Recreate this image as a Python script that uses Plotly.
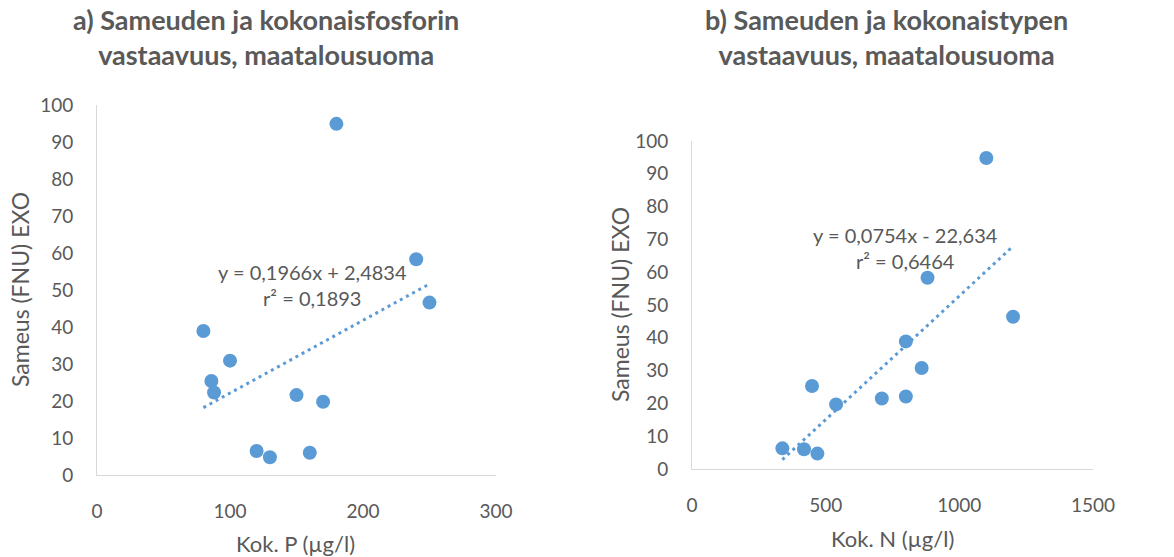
import plotly.graph_objects as go

W, H = 1174, 557

# Panel a) Total phosphorus vs turbidity
p_x = [80, 100, 86, 88, 150, 170, 120, 130, 160, 180, 240, 250]
p_y = [38.9, 30.9, 25.4, 22.3, 21.6, 19.8, 6.5, 4.8, 6.0, 94.9, 58.3, 46.6]
p_coef = [0.1966, 2.4834]
p_label = ["y = 0,1966x + 2,4834", "r² = 0,1893"]

# Panel b) Total nitrogen vs turbidity
n_x = [338, 419, 469, 449, 539, 710, 800, 800, 859, 881, 1101, 1201]
n_y = [6.3, 6.0, 4.7, 25.3, 19.7, 21.5, 22.1, 38.9, 30.8, 58.3, 94.8, 46.4]
n_coef = [0.0754, -22.634]
n_label = ["y = 0,0754x - 22,634", "r² = 0,6464"]

titles = ["<b>a) Sameuden ja kokonaisfosforin<br>vastaavuus, maatalousuoma</b>",
          "<b>b) Sameuden ja kokonaistypen<br>vastaavuus, maatalousuoma</b>"]
x_titles = ["Kok. P (µg/l)", "Kok. N (µg/l)"]
y_title = "Sameus (FNU) EXO"

BLUE = "#5b9bd5"
TXT = "#595959"
AX = "#d9d9d9"
FONT = "Lato, Open Sans, sans-serif"

fig = go.Figure()

def px_x(v):
    return v / W

def px_y(v):
    return 1 - v / H

panels = [
    dict(x=p_x, y=p_y, coef=p_coef, label=p_label, xr=[0, 300], dt=100,
         box=(97, 496, 105, 475), title_c=266, lab=(312, 285),
         xt=(296, 543), yt=(20, 290)),
    dict(x=n_x, y=n_y, coef=n_coef, label=n_label, xr=[0, 1500], dt=500,
         box=(692, 1093, 141, 469), title_c=886, lab=(905, 248),
         xt=(892, 538), yt=(620, 305)),
]

for i, pnl in enumerate(panels):
    xa = "x" if i == 0 else "x2"
    ya = "y" if i == 0 else "y2"
    xmin, xmax = min(pnl["x"]), max(pnl["x"])
    a, b = pnl["coef"]
    fig.add_trace(go.Scatter(
        x=[xmin, xmax], y=[a * xmin + b, a * xmax + b], mode="lines",
        line=dict(color=BLUE, width=3, dash="3px,4px"),
        xaxis=xa, yaxis=ya, showlegend=False, hoverinfo="skip"))
    fig.add_trace(go.Scatter(
        x=pnl["x"], y=pnl["y"], mode="markers",
        marker=dict(color=BLUE, size=14, line=dict(width=0)),
        xaxis=xa, yaxis=ya, showlegend=False))

    l, r, t, btm = pnl["box"]
    common = dict(showgrid=False, zeroline=False, showline=True, linecolor=AX,
                  linewidth=1, ticks="", automargin=False,
                  tickfont=dict(size=19, color=TXT, family=FONT))
    xkey = "xaxis" if i == 0 else "xaxis2"
    ykey = "yaxis" if i == 0 else "yaxis2"
    fig.update_layout(**{
        xkey: dict(domain=[px_x(l), px_x(r)], range=pnl["xr"], dtick=pnl["dt"],
                   anchor=ya, ticklabelstandoff=19, **common),
        ykey: dict(domain=[px_y(btm), px_y(t)], range=[0, 100], dtick=10,
                   anchor=xa, ticklabelstandoff=19, **common),
    })

    fig.add_annotation(text=titles[i], x=px_x(pnl["title_c"]), y=px_y(37),
                       xref="paper", yref="paper", showarrow=False,
                       xanchor="center", yanchor="middle",
                       font=dict(size=27, color=TXT, family=FONT), align="center")
    lx, ly = pnl["lab"]
    fig.add_annotation(text=pnl["label"][0] + "<br>" + pnl["label"][1],
                       x=px_x(lx), y=px_y(ly), xref="paper", yref="paper",
                       showarrow=False, align="center", xanchor="center", yanchor="middle",
                       font=dict(size=20, color=TXT, family=FONT))
    # axis titles
    fig.add_annotation(text=x_titles[i], x=px_x(pnl["xt"][0]), y=px_y(pnl["xt"][1]),
                       xref="paper", yref="paper", showarrow=False,
                       xanchor="center", yanchor="middle",
                       font=dict(size=22, color=TXT, family=FONT))
    fig.add_annotation(text=y_title, x=px_x(pnl["yt"][0]), y=px_y(pnl["yt"][1]),
                       xref="paper", yref="paper", showarrow=False, textangle=-90,
                       xanchor="center", yanchor="middle",
                       font=dict(size=23, color=TXT, family=FONT))

fig.update_layout(width=W, height=H, margin=dict(l=0, r=0, t=0, b=0),
                  paper_bgcolor="white", plot_bgcolor="white",
                  font=dict(family=FONT, color=TXT))

# remove the default 8px page margin so the figure fills the window exactly
fig.write_html("out.html", config={"displayModeBar": False},
               post_script="document.body.style.margin='0';document.body.style.padding='0';")
